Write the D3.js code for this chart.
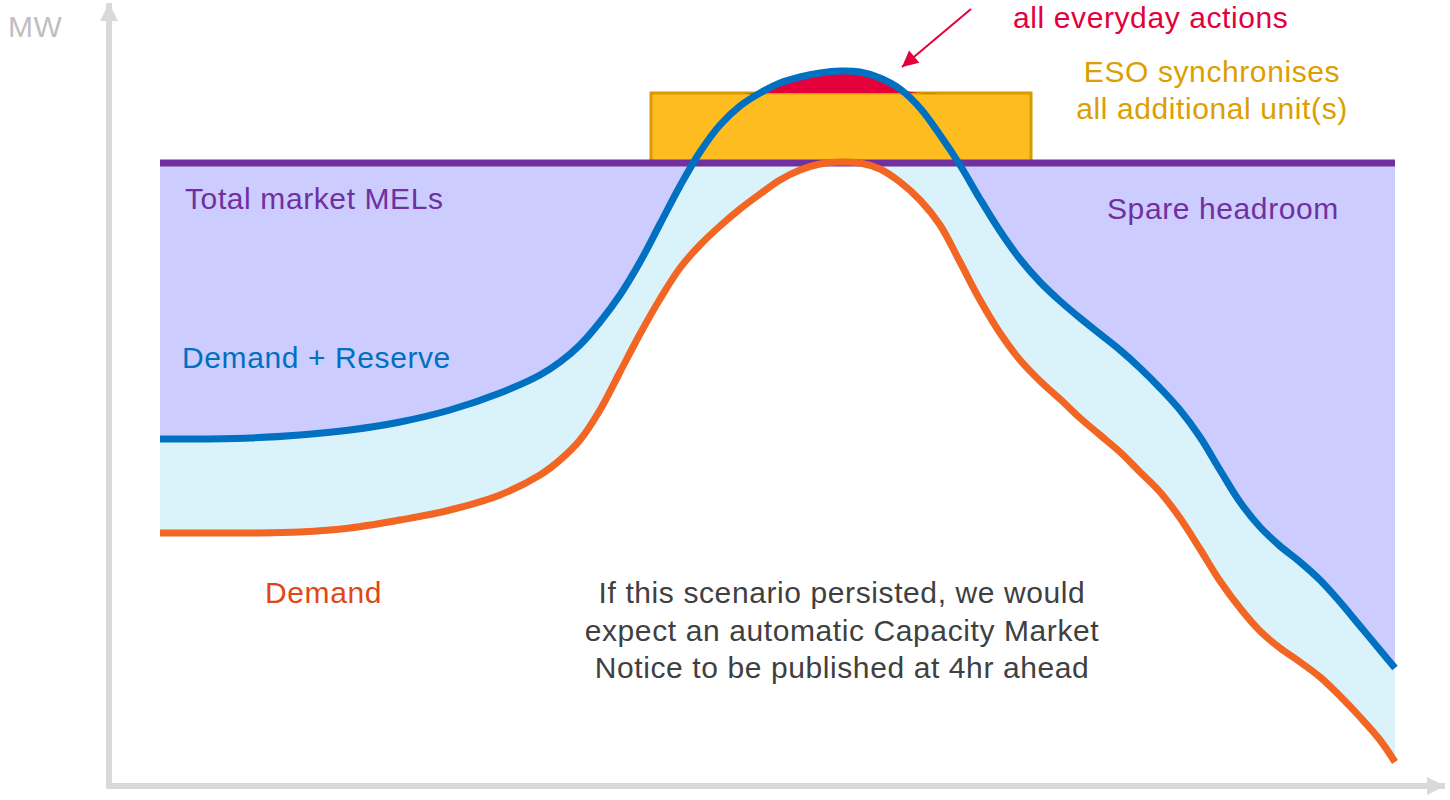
<!DOCTYPE html>
<head>
  <meta charset="utf-8">
  <title>Demand, reserve and market MELs</title>
  <script src="https://d3js.org/d3.v7.min.js"></script>
  <style>
    body { margin: 0; background: #fff; }
    text { font-family: "Liberation Sans", Arial, sans-serif; }
  </style>
</head>
<body>
<svg width="1450" height="800"></svg>

<script type="text/javascript">

// schematic values: x = time step, y = MW (arbitrary units)
var times = [0, 40, 90, 140, 190, 240, 290, 340, 380, 400, 420, 440, 460, 480, 500, 520, 540, 560, 580, 600,
             620, 640, 660, 680, 700, 720, 740, 760, 780, 800, 820, 840, 860, 880, 900, 920, 940, 960, 980, 1000,
             1020, 1040, 1060, 1080, 1100, 1120, 1140, 1160, 1180, 1200, 1220, 1235];
var demandReserve = [347, 347, 348, 351, 356, 364, 376, 393, 411, 424, 441, 464, 491, 524, 562, 600, 634, 661, 680, 693,
                     703, 709, 713, 715, 714, 708, 697, 678, 651, 621, 587, 555, 527, 504, 485, 468, 452, 436, 418, 398,
                     376, 349, 316, 284, 259, 240, 224, 206, 184, 160, 136, 118];
var demand = [253, 253, 253, 254, 258, 266, 276, 291, 311, 326, 346, 376, 414, 452, 487, 518, 541, 560, 577, 592,
              606, 616, 622, 624, 623, 617, 604, 586, 561, 524, 486, 453, 426, 405, 387, 368, 351, 334, 314, 294,
              268, 237, 205, 178, 155, 138, 124, 109, 90, 69, 46, 24];
var totalMEL = 623;
var syncBlock = { from: 491, to: 871, top: 693 };   // ESO synchronised units sit on top of MELs

var svg = d3.select("svg");
var x = d3.scaleLinear().domain([0, 1235]).range([160, 1395]);
var y = d3.scaleLinear().domain([0, 780]).range([786, 6]);

var pts = times.map(function(t, i) { return { t: t, dr: demandReserve[i], d: demand[i] }; });
var curve = d3.curveCatmullRom.alpha(0.5);

// reserve band between the two curves
svg.append("path")
  .datum(pts)
  .attr("fill", "#daf2fa")
  .attr("d", d3.area().curve(curve)
    .x(function(d) { return x(d.t); })
    .y0(function(d) { return y(d.d); })
    .y1(function(d) { return y(d.dr); }));

// spare headroom: between MELs and demand + reserve
svg.append("path")
  .datum(pts)
  .attr("fill", "#ccccff")
  .attr("d", d3.area().curve(curve)
    .x(function(d) { return x(d.t); })
    .y0(function(d) { return y(Math.min(d.dr, totalMEL)); })
    .y1(y(totalMEL)));

// additional units block
svg.append("rect")
  .attr("x", x(syncBlock.from))
  .attr("y", y(syncBlock.top))
  .attr("width", x(syncBlock.to) - x(syncBlock.from))
  .attr("height", y(totalMEL) - y(syncBlock.top))
  .attr("fill", "#fdbd21")
  .attr("stroke", "#d99b00")
  .attr("stroke-width", 3);

// shortfall covered by everyday actions
svg.append("path")
  .datum(pts)
  .attr("fill", "#e4003b")
  .attr("d", d3.area().curve(curve)
    .x(function(d) { return x(d.t); })
    .y0(y(syncBlock.top))
    .y1(function(d) { return y(Math.max(d.dr, syncBlock.top)); }));

// MEL line
svg.append("line")
  .attr("x1", x(0)).attr("x2", x(1235))
  .attr("y1", y(totalMEL)).attr("y2", y(totalMEL))
  .attr("stroke", "#7030a0").attr("stroke-width", 7);

svg.append("path")
  .datum(pts)
  .attr("fill", "none").attr("stroke", "#0070c0").attr("stroke-width", 7)
  .attr("d", d3.line().curve(curve).x(function(d) { return x(d.t); }).y(function(d) { return y(d.dr); }));

svg.append("path")
  .datum(pts)
  .attr("fill", "none").attr("stroke", "#f26522").attr("stroke-width", 7)
  .attr("d", d3.line().curve(curve).x(function(d) { return x(d.t); }).y(function(d) { return y(d.d); }));

// axes with arrow heads
var defs = svg.append("defs");
function marker(id, color, w, h) {
  defs.append("marker")
    .attr("id", id).attr("viewBox", "0 0 10 10")
    .attr("refX", 10).attr("refY", 5)
    .attr("markerUnits", "userSpaceOnUse")
    .attr("markerWidth", w).attr("markerHeight", h)
    .attr("orient", "auto")
    .append("path").attr("d", "M0,0L10,5L0,10Z").attr("fill", color);
}
marker("axisArrow", "#d9d9d9", 18, 18);
marker("redArrow", "#e4003b", 20, 16);

svg.append("line")
  .attr("x1", x(-51)).attr("x2", x(-51))
  .attr("y1", y(0) + 3).attr("y2", y(783))
  .attr("stroke", "#d9d9d9").attr("stroke-width", 6)
  .attr("marker-end", "url(#axisArrow)");
svg.append("line")
  .attr("x1", x(-54)).attr("x2", x(1285))
  .attr("y1", y(0)).attr("y2", y(0))
  .attr("stroke", "#d9d9d9").attr("stroke-width", 6)
  .attr("marker-end", "url(#axisArrow)");

svg.append("line")
  .attr("x1", 971).attr("y1", 9).attr("x2", 902).attr("y2", 67)
  .attr("stroke", "#e4003b").attr("stroke-width", 2)
  .attr("marker-end", "url(#redArrow)");

// labels
var labels = [
  { text: "MW", x: 8, y: 37, color: "#bfbfbf", anchor: "start" },
  { text: "Total market MELs", x: 185, y: 209, color: "#7030a0", anchor: "start" },
  { text: "Spare headroom", x: 1107, y: 219, color: "#7030a0", anchor: "start" },
  { text: "Demand + Reserve", x: 182, y: 368, color: "#0070c0", anchor: "start" },
  { text: "Demand", x: 265, y: 603, color: "#e24614", anchor: "start" },
  { text: "all everyday actions", x: 1013, y: 28, color: "#e4003b", anchor: "start" },
  { text: "ESO synchronises", x: 1212, y: 82, color: "#dc9e00", anchor: "middle" },
  { text: "all additional unit(s)", x: 1212, y: 119, color: "#dc9e00", anchor: "middle" },
  { text: "If this scenario persisted, we would", x: 842, y: 603, color: "#404040", anchor: "middle" },
  { text: "expect an automatic Capacity Market", x: 842, y: 641, color: "#404040", anchor: "middle" },
  { text: "Notice to be published at 4hr ahead", x: 842, y: 678, color: "#404040", anchor: "middle" }
];

svg.selectAll("text.lbl")
  .data(labels)
  .enter().append("text")
    .attr("class", "lbl")
    .attr("x", function(d) { return d.x; })
    .attr("y", function(d) { return d.y; })
    .attr("fill", function(d) { return d.color; })
    .attr("text-anchor", function(d) { return d.anchor; })
    .style("font-size", "30px")
    .style("letter-spacing", "0.6px")
    .text(function(d) { return d.text; });

</script>
</body>
</html>
